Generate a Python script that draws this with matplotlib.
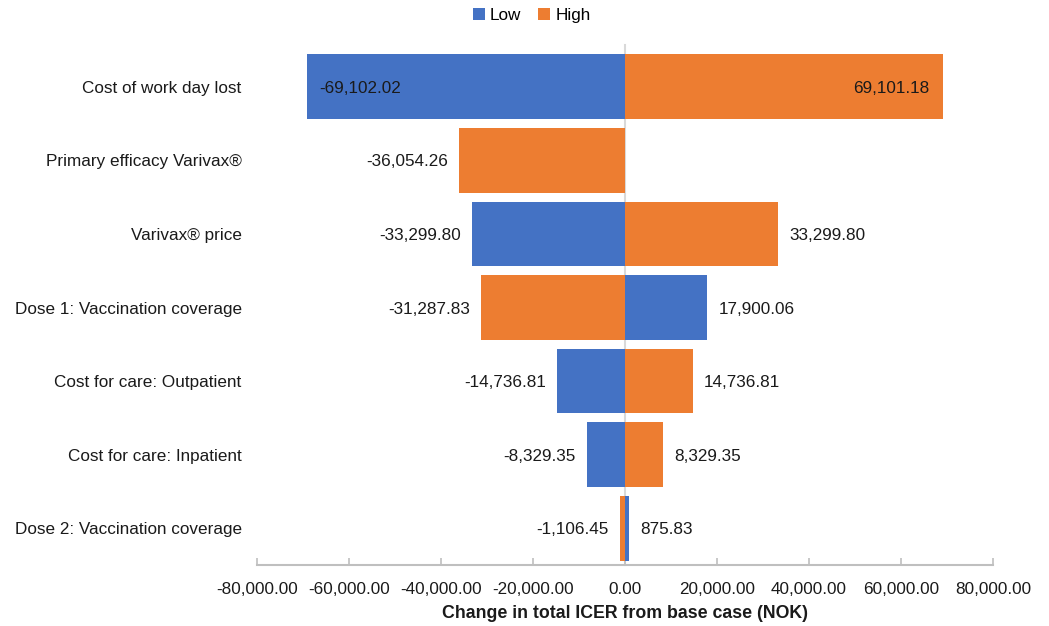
import matplotlib
matplotlib.use("Agg")
import matplotlib.pyplot as plt
import numpy as np

plt.rcParams['font.family'] = ['Liberation Sans', 'DejaVu Sans']

categories = ["Cost of work day lost", "Primary efficacy Varivax®", "Varivax® price",
              "Dose 1: Vaccination coverage", "Cost for care: Outpatient",
              "Cost for care: Inpatient", "Dose 2: Vaccination coverage"]
low_values = [-69102.02, np.nan, -33299.80, 17900.06, -14736.81, -8329.35, 875.83]
high_values = [69101.18, -36054.26, 33299.80, -31287.83, 14736.81, 8329.35, -1106.45]
x_ticks = [-80000, -60000, -40000, -20000, 0, 20000, 40000, 60000, 80000]

BLUE = "#4472C4"
ORANGE = "#ED7D31"
FS = 12.3
TC = '#1a1a1a'

fig = plt.figure(figsize=(10.49, 6.26), dpi=100)
ax = fig.add_axes([257/1049, 1 - 565/626, (993-257)/1049, (565-50)/626])

y = np.arange(len(categories))
h = 0.88
lv = np.nan_to_num(np.array(low_values, dtype=float))
hv = np.array(high_values, dtype=float)
ax.barh(y, lv, height=h, color=BLUE, label="Low", zorder=2)
ax.barh(y, hv, height=h, color=ORANGE, label="High", zorder=2)

def fmt(v):
    return f"{v:,.2f}"

for i in range(len(categories)):
    for v in (low_values[i], high_values[i]):
        if v is None or np.isnan(v):
            continue
        if i == 0:
            off = -10 if v > 0 else 9
            ha = 'right' if v > 0 else 'left'
        else:
            off = 8 if v > 0 else -8
            ha = 'left' if v > 0 else 'right'
        ax.annotate(fmt(v), (v, i), xytext=(off, 0), textcoords='offset points',
                    ha=ha, va='center_baseline', fontsize=FS, color=TC, zorder=3)

ax.set_xlim(-80000, 80000)
ax.set_ylim(len(categories) - 0.5, -0.5)
ax.set_xticks(x_ticks)
ax.set_xticklabels([fmt(t) for t in x_ticks], fontsize=FS, color=TC)
ax.set_yticks(y)
ax.set_yticklabels(categories, fontsize=FS, color=TC, va='center_baseline')
ax.tick_params(axis='y', length=0, pad=11)
ax.tick_params(axis='x', direction='in', length=5, color='#BFBFBF', width=1.2, pad=12)
for s in ['top', 'right', 'left']:
    ax.spines[s].set_visible(False)
ax.spines['bottom'].set_color('#BFBFBF')
ax.spines['bottom'].set_linewidth(1.5)
ax.axvline(0, color='#D9D9D9', lw=1.5, zorder=1.5, ymax=1.01, clip_on=False)
ax.set_xlabel("Change in total ICER from base case (NOK)", fontsize=FS + 0.5,
              fontweight='bold', color=TC, labelpad=6)

fig.legend(loc='upper center', bbox_to_anchor=(0.507, 1.012), ncol=2, frameon=False,
           fontsize=FS, handlelength=0.7, handleheight=0.7, handletextpad=0.3,
           columnspacing=1.0)

fig.savefig("out.png", dpi=100)
